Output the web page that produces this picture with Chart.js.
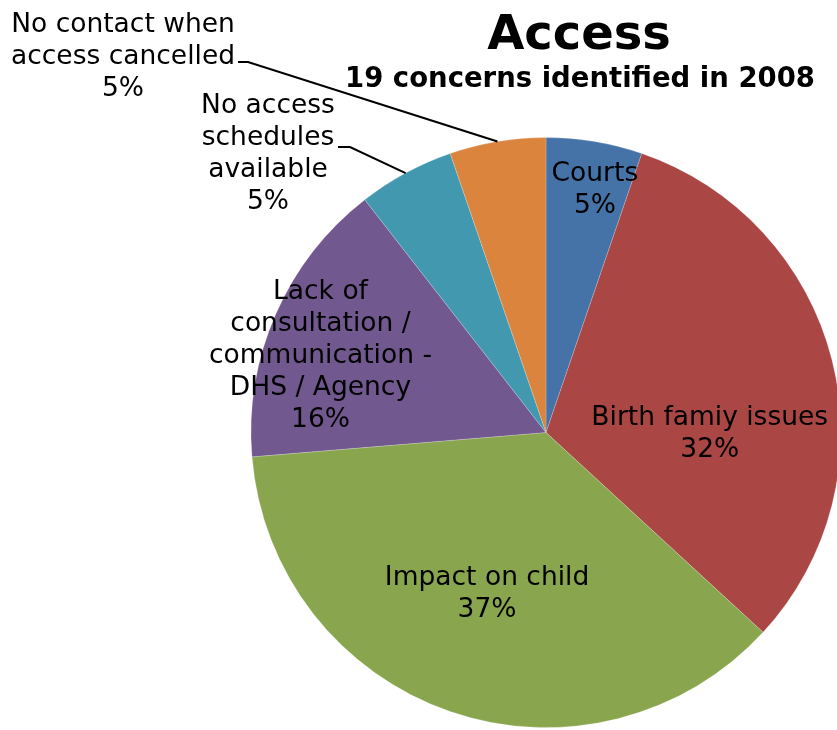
<!DOCTYPE html>
<html>
<head>
<meta charset="utf-8">
<script src="https://cdn.jsdelivr.net/npm/chart.js@4/dist/chart.umd.min.js"></script>
<style>
  html, body { margin: 0; padding: 0; background: #ffffff; overflow: hidden; }
  #wrap { width: 837px; height: 730px; overflow: hidden; position: relative; }
  canvas { display: block; }
</style>
</head>
<body>
<div id="wrap"><canvas id="c" width="860" height="730"></canvas></div>
<script>
// ---- Data ----
const categories = [
  'Courts',
  'Birth famiy issues',
  'Impact on child',
  'Lack of consultation / communication - DHS / Agency',
  'No access schedules available',
  'No contact when access cancelled'
];
const concernCounts = [1, 6, 7, 3, 1, 1];
const percentLabels = ['5%', '32%', '37%', '16%', '5%', '5%'];
const labelLines = [
  ['Courts'],
  ['Birth famiy issues'],
  ['Impact on child'],
  ['Lack of', 'consultation /', 'communication -', 'DHS / Agency'],
  ['No access', 'schedules', 'available'],
  ['No contact when', 'access cancelled']
];
const sliceColors = ['#4572A7', '#AA4643', '#89A54E', '#71588F', '#4198AF', '#DB843D'];
const titleText = 'Access';
const subtitleText = '19 concerns identified in 2008';

// ---- Label placement (styling) ----
const labelPlacement = [
  { inside: true, angle: 11.3, rFrac: 0.846 },
  { inside: true, angle: 89.7, rFrac: 0.555 },
  { inside: true, angle: 200.3, rFrac: 0.576 },
  { inside: true, angle: 289.3, rFrac: 0.810 },
  { inside: false, cx: 268, firstBaseline: 113, elbow: [350, 147], lineEnd: [338, 147] },
  { inside: false, cx: 123, firstBaseline: 32, elbow: [248, 62], lineEnd: [238, 62] }
];

const LABEL_FONT = '26.5px "DejaVu Sans", Verdana, sans-serif';
const LINE_H = 32;
const CAP_HALF = 9.5;

const labelPlugin = {
  id: 'pieLabels',
  afterDatasetsDraw(chart) {
    const ctx = chart.ctx;
    const meta = chart.getDatasetMeta(0);
    ctx.save();
    ctx.fillStyle = '#000';
    ctx.textAlign = 'center';
    ctx.textBaseline = 'alphabetic';
    ctx.font = 'bold 48px "DejaVu Sans", Verdana, sans-serif';
    ctx.fillText(titleText, 579, 49);
    ctx.font = 'bold 27.5px "DejaVu Sans", Verdana, sans-serif';
    ctx.fillText(subtitleText, 580, 87);

    ctx.font = LABEL_FONT;
    meta.data.forEach((arc, i) => {
      const p = arc.getProps(['x', 'y', 'startAngle', 'endAngle', 'outerRadius'], true);
      const lines = labelLines[i].concat([percentLabels[i]]);
      const pl = labelPlacement[i];
      if (pl.inside) {
        const a = (pl.angle - 90) * Math.PI / 180;
        const cx = p.x + Math.cos(a) * p.outerRadius * pl.rFrac;
        const cy = p.y + Math.sin(a) * p.outerRadius * pl.rFrac;
        const first = cy - (lines.length - 1) * LINE_H / 2 + CAP_HALF;
        lines.forEach((t, k) => ctx.fillText(t, cx, first + k * LINE_H));
      } else {
        lines.forEach((t, k) => ctx.fillText(t, pl.cx, pl.firstBaseline + k * LINE_H));
        const mid = (p.startAngle + p.endAngle) / 2;
        const ex = p.x + Math.cos(mid) * p.outerRadius;
        const ey = p.y + Math.sin(mid) * p.outerRadius;
        ctx.beginPath();
        ctx.strokeStyle = '#000';
        ctx.lineWidth = 2;
        ctx.moveTo(pl.lineEnd[0], pl.lineEnd[1]);
        ctx.lineTo(pl.elbow[0], pl.elbow[1]);
        ctx.lineTo(ex, ey);
        ctx.stroke();
      }
    });
    ctx.restore();
  }
};

new Chart(document.getElementById('c'), {
  type: 'pie',
  data: {
    labels: categories,
    datasets: [{
      data: concernCounts,
      backgroundColor: sliceColors,
      borderColor: 'rgba(255,255,255,0.2)',
      borderWidth: 1,
      hoverOffset: 0
    }]
  },
  options: {
    responsive: false,
    animation: false,
    layout: { padding: { left: 250.5, right: 18.5, top: 137, bottom: 2 } },
    plugins: {
      legend: { display: false },
      tooltip: { enabled: false },
      title: { display: false }
    }
  },
  plugins: [labelPlugin]
});
</script>
</body>
</html>
